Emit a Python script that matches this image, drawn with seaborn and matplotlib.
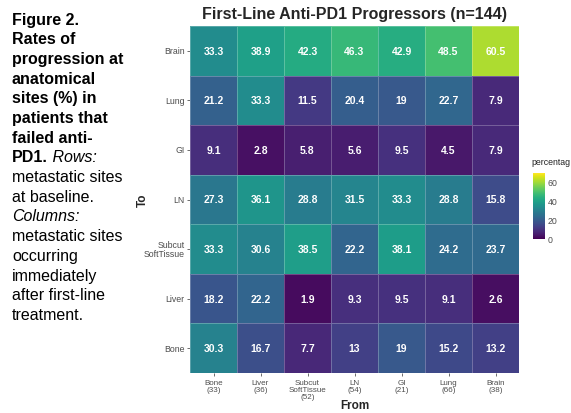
import numpy as np
import pandas as pd
import seaborn as sns
import matplotlib
matplotlib.use("Agg")
import matplotlib.pyplot as plt

# rows = "To" (top to bottom), columns = "From"
rows = ["Brain", "Lung", "GI", "LN", "Subcut\nSoftTissue", "Liver", "Bone"]
cols = ["Bone\n(33)", "Liver\n(36)", "Subcut\nSoftTissue\n(52)", "LN\n(54)",
        "GI\n(21)", "Lung\n(66)", "Brain\n(38)"]

brain = [33.3, 38.9, 42.3, 46.3, 42.9, 48.5, 60.5]
lung = [21.2, 33.3, 11.5, 20.4, 19, 22.7, 7.9]
gi = [9.1, 2.8, 5.8, 5.6, 9.5, 4.5, 7.9]
ln = [27.3, 36.1, 28.8, 31.5, 33.3, 28.8, 15.8]
subcut = [33.3, 30.6, 38.5, 22.2, 38.1, 24.2, 23.7]
liver = [18.2, 22.2, 1.9, 9.3, 9.5, 9.1, 2.6]
bone = [30.3, 16.7, 7.7, 13, 19, 15.2, 13.2]

cbar_ticks = [0, 20, 40, 60]

sns.set_style("white")
plt.rcParams["font.family"] = ["Liberation Sans", "DejaVu Sans"]

df = pd.DataFrame([brain, lung, gi, ln, subcut, liver, bone], index=rows, columns=cols)
labels = df.map(lambda v: f"{v:g}")

W, H = 571, 414
fig = plt.figure(figsize=(W / 100, H / 100), dpi=100)

def box(x0, y0, x1, y1):
    return [x0 / W, 1 - y1 / H, (x1 - x0) / W, (y1 - y0) / H]

ax = fig.add_axes(box(190, 27, 519, 374))
cax = fig.add_axes(box(533, 174, 545, 240))

sns.heatmap(df, ax=ax, cbar_ax=cax, cmap="viridis", vmin=0, vmax=69,
            annot=labels, fmt="", linewidths=0.6, linecolor=(1, 1, 1, 0.25),
            annot_kws={"fontsize": 7.5, "fontweight": "bold", "color": "white"})

ax.tick_params(axis="both", length=2.5, width=0.6, color="#555555",
               labelsize=6.3, labelcolor="#4d4d4d", pad=1.5)
ax.tick_params(axis="x", bottom=True, labelsize=5.8)
ax.tick_params(axis="y", left=True)
plt.setp(ax.get_xticklabels(), rotation=0, ha="center", linespacing=1.05)
plt.setp(ax.get_yticklabels(), rotation=0, ha="right", multialignment="right", linespacing=1.0)

ax.set_xlabel("From", fontsize=8.5, fontweight="bold", va="center")
ax.xaxis.set_label_coords(0.5, (374 - 406) / 347)
ax.set_ylabel("To", fontsize=8.5, fontweight="bold", va="center")
ax.yaxis.set_label_coords((143 - 190) / 329, 0.5)
ax.set_title("First-Line Anti-PD1 Progressors (n=144)", fontsize=11.5, fontweight="bold", pad=6)

cax.set_yticks(cbar_ticks)
cax.tick_params(axis="y", length=2.5, width=0.6, color="white", direction="in",
                labelsize=6.3, labelcolor="#4d4d4d", pad=2)
for s in cax.spines.values():
    s.set_visible(False)
fig.text(531 / W, 1 - 163 / H, "percentag", fontsize=6.3, color="#222222", va="center")

# caption on the left
caption = [
    [("Figure 2.", "bold", "normal")],
    [("Rates of", "bold", "normal")],
    [("progression at", "bold", "normal")],
    [("anatomical", "bold", "normal")],
    [("sites (%) in", "bold", "normal")],
    [("patients that", "bold", "normal")],
    [("failed anti-", "bold", "normal")],
    [("PD1.", "bold", "normal"), (" Rows:", "normal", "italic")],
    [("metastatic sites", "normal", "normal")],
    [("at baseline.", "normal", "normal")],
    [("Columns:", "normal", "italic")],
    [("metastatic sites", "normal", "normal")],
    [("occurring", "normal", "normal")],
    [("immediately", "normal", "normal")],
    [("after first-line", "normal", "normal")],
    [("treatment.", "normal", "normal")],
]
y = 20
for line in caption:
    prev = None
    for txt, weight, style in line:
        if prev is None:
            prev = fig.text(12 / W, 1 - y / H, txt, fontsize=11.5, fontweight=weight,
                            fontstyle=style, va="center", ha="left", color="black")
        else:
            prev = ax.annotate(txt, xy=(1, 0), xycoords=prev, va="bottom", ha="left",
                               fontsize=11.5, fontweight=weight, fontstyle=style,
                               color="black", annotation_clip=False)
    y += 19.7

fig.savefig("out.png", dpi=100)
